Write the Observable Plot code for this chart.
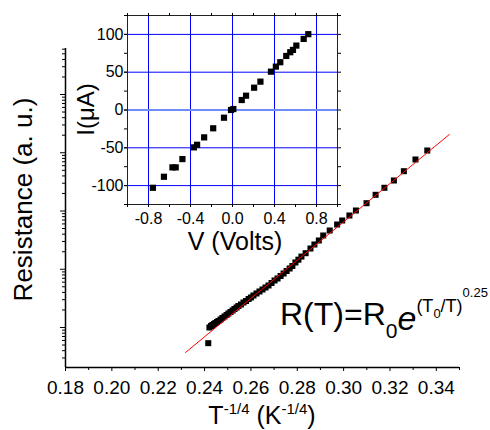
<!DOCTYPE html>
<html><head><meta charset="utf-8">
<script src="https://cdn.jsdelivr.net/npm/d3@7"></script>
<script src="https://cdn.jsdelivr.net/npm/@observablehq/plot@0.6"></script>
<style>
body{margin:0;background:#fff;}
#wrap{position:relative;width:490px;height:430px;}
#wrap svg{position:absolute;left:0;top:0;}
</style></head><body><div id="wrap"></div>
<script>
// Main panel: R vs T^-1/4
const tInv = [0.2416, 0.2421, 0.2428, 0.2434, 0.2441, 0.2447, 0.2454, 0.2460, 0.2469, 0.2477, 0.2486, 0.2495, 0.2503, 0.2512, 0.2521, 0.2529, 0.2538, 0.2546, 0.2557, 0.2568, 0.2579, 0.2590, 0.2600, 0.2611, 0.2624, 0.2637, 0.2650, 0.2663, 0.2676, 0.2689, 0.2702, 0.2715, 0.2728, 0.2741, 0.2754, 0.2767, 0.2779, 0.2792, 0.2805, 0.2818, 0.2836, 0.2857, 0.2874, 0.2893, 0.2912, 0.2940, 0.2972, 0.2994, 0.3025, 0.3053, 0.3099, 0.3138, 0.3176, 0.3217, 0.3260, 0.3310, 0.3361];
const resistance = [0.538, 1.000, 1.061, 1.104, 1.148, 1.195, 1.243, 1.293, 1.372, 1.456, 1.545, 1.639, 1.740, 1.845, 1.958, 2.078, 2.205, 2.339, 2.482, 2.687, 2.851, 3.086, 3.274, 3.542, 3.835, 4.150, 4.491, 4.861, 5.261, 5.807, 6.410, 6.938, 7.658, 8.453, 9.331, 10.30, 11.37, 13.06, 14.60, 16.50, 18.86, 22.71, 26.60, 31.16, 37.97, 46.27, 58.66, 68.70, 83.71, 102.0, 136.2, 189.7, 250.3, 334.0, 482.4, 765.8, 1093];
const fitT = [0.2318, 0.3456];
const fitR = [0.3723, 2057];
const xMajor = [0.18, 0.20, 0.22, 0.24, 0.26, 0.28, 0.30, 0.32, 0.34];
const xMinor = [0.19, 0.21, 0.23, 0.25, 0.27, 0.29, 0.31, 0.33, 0.35];
const yDomain = [0.2056, 61660];
const yMajor = [1, 10, 100, 1000, 10000];
const yMinorMult = [2, 3, 4, 5, 6, 7, 8, 9];

// Inset: I-V
const voltage = [-0.758, -0.653, -0.572, -0.541, -0.477, -0.368, -0.337, -0.270, -0.184, -0.081, -0.014, 0.008, 0.088, 0.129, 0.206, 0.266, 0.366, 0.413, 0.455, 0.512, 0.550, 0.576, 0.608, 0.678, 0.722];
const current = [-102.9, -88.3, -75.9, -75.9, -64.9, -49.4, -46.0, -36.2, -24.2, -10.2, 0, 1.3, 13.2, 18.9, 29.5, 37.5, 50.7, 57.4, 63.2, 71.5, 76.4, 79.5, 85.2, 94.0, 100.3];
const vTicks = [-1.0, -0.8, -0.6, -0.4, -0.2, 0, 0.2, 0.4, 0.6, 0.8, 1.0];
const vLabels = [-0.8, -0.4, 0, 0.4, 0.8];
const iTicks = [-125, -100, -75, -50, -25, 0, 25, 50, 75, 100, 125];
const iLabels = [-100, -50, 0, 50, 100];
const iGrid = [-100, -50, 50, 100];

const font = "'Liberation Sans', Arial, Helvetica, sans-serif";
const yMinor = [0.1, 1, 10, 100, 1000, 10000].flatMap(d => yMinorMult.map(m => d * m))
  .filter(v => v > yDomain[0] && v < yDomain[1]);

const mainData = tInv.map((t, i) => ({t, r: resistance[i]}));
const fitData = fitT.map((t, i) => ({t, r: fitR[i]}));
const none = () => "";

const main = Plot.plot({
  width: 490, height: 430,
  marginTop: 48, marginRight: 31, marginBottom: 63, marginLeft: 65,
  style: {fontFamily: font, background: "transparent", color: "black"},
  x: {domain: [0.18, 0.35]},
  y: {type: "log", domain: yDomain},
  marks: [
    Plot.dot(mainData, {x: "t", y: "r", symbol: "square", r: 3.4, fill: "black", stroke: "none"}),
    Plot.line(fitData, {x: "t", y: "r", stroke: "#ff0000", strokeWidth: 1}),
    Plot.ruleX([0.18], {stroke: "black", strokeWidth: 1.5}),
    Plot.ruleY([yDomain[0]], {stroke: "black", strokeWidth: 1.5}),
    Plot.axisX(xMajor, {tickSize: 4, tickPadding: 9, fontSize: 19, tickFormat: d => d.toFixed(2), label: null}),
    Plot.axisX(xMinor, {tickSize: 3, tickFormat: none, label: null}),
    Plot.axisY(yMajor, {tickSize: 5, tickFormat: none, label: null}),
    Plot.axisY(yMinor, {tickSize: 3, tickFormat: none, label: null})
  ]
});

const s = d3.select(main);
s.append("text").attr("transform", "translate(32,199.5) rotate(-90)")
  .attr("text-anchor", "middle").attr("font-size", 26).attr("fill", "black")
  .text("Resistance (a. u.)");
const xl = s.append("text").attr("x", 262).attr("y", 424)
  .attr("text-anchor", "middle").attr("font-size", 25).attr("fill", "black");
xl.append("tspan").text("T");
xl.append("tspan").attr("font-size", 15).attr("dy", -10).text("-1/4");
xl.append("tspan").attr("dy", 10).text(" (K");
xl.append("tspan").attr("font-size", 15).attr("dy", -10).text("-1/4");
xl.append("tspan").attr("dy", 10).text(")");

const f = s.append("text").attr("x", 280).attr("y", 325).attr("text-anchor", "start")
  .attr("font-size", 32).attr("fill", "black");
f.append("tspan").text("R(T)=R");
f.append("tspan").attr("font-size", 21).attr("y", 338).text("0");
f.append("tspan").attr("font-size", 34).attr("font-style", "italic").attr("y", 330).text("e");
f.append("tspan").attr("font-size", 18).attr("y", 312).text("(T");
f.append("tspan").attr("font-size", 13).attr("y", 318).text("0");
f.append("tspan").attr("font-size", 18).attr("y", 312).text("/T)");
f.append("tspan").attr("font-size", 13).attr("y", 297).text("0.25");

const insetData = voltage.map((v, i) => ({v, i: current[i]}));
const inset = Plot.plot({
  width: 490, height: 260,
  marginTop: 15, marginRight: 153, marginBottom: 56, marginLeft: 127,
  style: {fontFamily: font, background: "transparent", color: "black"},
  x: {domain: [-1, 1]},
  y: {domain: [-125, 125]},
  marks: [
    Plot.frame({fill: "white", stroke: "none"}),
    Plot.ruleX(vLabels, {stroke: "#0000ff", strokeWidth: 1}),
    Plot.ruleY(iGrid, {stroke: "#0000ff", strokeWidth: 1}),
    Plot.ruleY([0], {stroke: "#6f8cff", strokeWidth: 2}),
    Plot.frame({stroke: "#222", strokeWidth: 1}),
    Plot.dot(insetData, {x: "v", y: "i", symbol: "square", r: 3.5, fill: "black", stroke: "none"}),
    Plot.axisX(vTicks, {tickSize: 3, tickFormat: none, label: null}),
    Plot.axisX(vLabels, {tickSize: 3, tickPadding: 5, fontSize: 16, tickFormat: d => d.toFixed(1), label: null}),
    Plot.axisX(vTicks, {anchor: "top", tickSize: 3, tickFormat: none, label: null}),
    Plot.axisY(iTicks, {tickSize: 3, tickFormat: none, label: null}),
    Plot.axisY(iLabels, {tickSize: 3, tickPadding: 1, fontSize: 16, tickFormat: d => String(d), label: null}),
    Plot.axisY(iTicks, {anchor: "right", tickSize: 3, tickFormat: none, label: null})
  ]
});
const si = d3.select(inset);
si.append("text").attr("transform", "translate(94,109.5) rotate(-90)")
  .attr("text-anchor", "middle").attr("font-size", 24).attr("fill", "black")
  .text("I(μA)");
si.append("text").attr("x", 235).attr("y", 250)
  .attr("text-anchor", "middle").attr("font-size", 25).attr("fill", "black")
  .text("V (Volts)");

const wrap = document.getElementById("wrap");
wrap.appendChild(main);
wrap.appendChild(inset);
</script>
</body></html>
